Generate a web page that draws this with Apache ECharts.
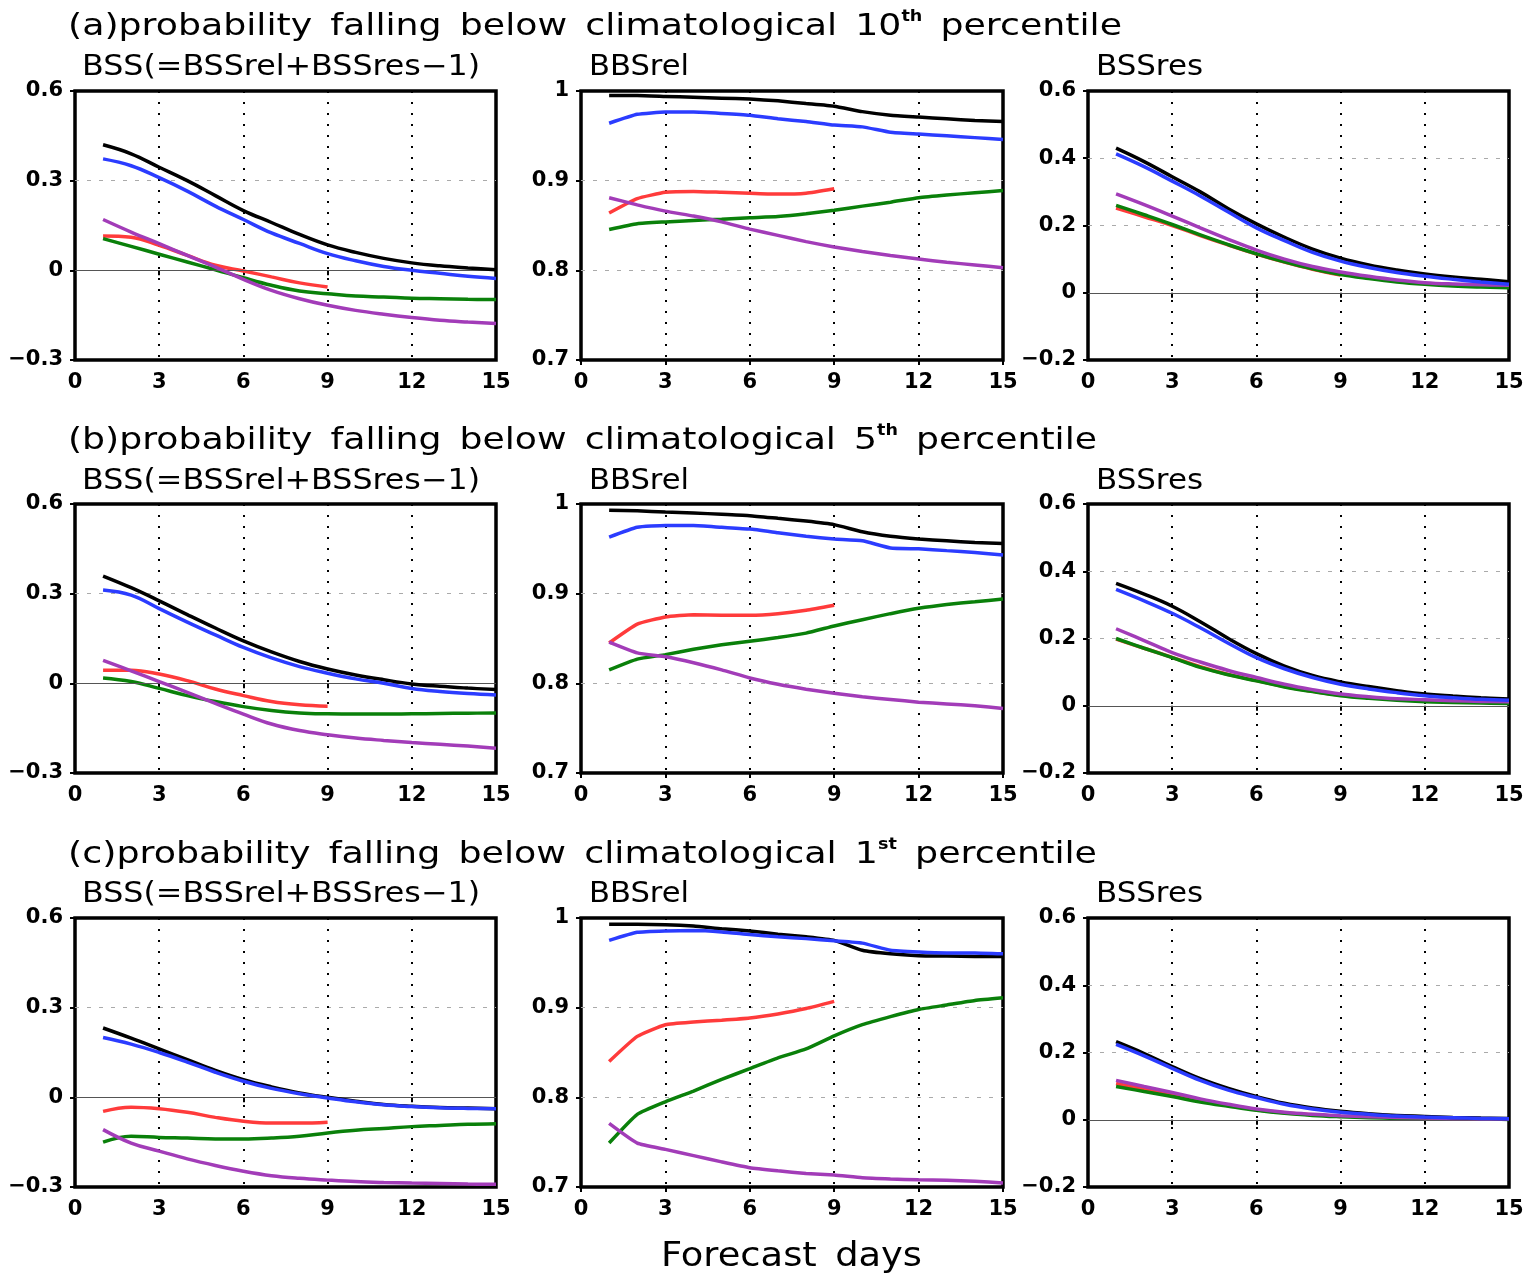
<!DOCTYPE html>
<html><head><meta charset="utf-8">
<script src="https://cdn.jsdelivr.net/npm/echarts@6/dist/echarts.min.js"></script>
<style>html,body{margin:0;padding:0;background:#fff}#c{width:1528px;height:1274px}</style>
</head><body><div id="c"></div>
<script>
// ---------------- DATA ----------------
const days = [1,2,3,4,5,6,7,8,9,10,11,12,13,14,15];
const dayTicks = [0,3,6,9,12,15];
const bssTicks = [-0.3,0,0.3,0.6];
const relTicks = [0.7,0.8,0.9,1];
const resTicks = [-0.2,0,0.2,0.4,0.6];

// (a) 10th percentile
const a_bss_black  = [0.42,0.39,0.345,0.30,0.25,0.20,0.16,0.12,0.085,0.06,0.04,0.025,0.015,0.008,0.002];
const a_bss_blue   = [0.373,0.35,0.31,0.265,0.215,0.17,0.125,0.09,0.056,0.032,0.013,0.0,-0.01,-0.02,-0.027];
const a_bss_red    = [0.115,0.111,0.084,0.05,0.017,-0.002,-0.022,-0.042,-0.056];
const a_bss_green  = [0.106,0.08,0.054,0.028,0.002,-0.025,-0.05,-0.069,-0.078,-0.086,-0.089,-0.093,-0.095,-0.097,-0.098];
const a_bss_purple = [0.17,0.128,0.089,0.05,0.011,-0.03,-0.067,-0.095,-0.117,-0.134,-0.147,-0.158,-0.167,-0.173,-0.178];

const a_rel_black  = [0.995,0.995,0.994,0.993,0.992,0.991,0.989,0.986,0.983,0.977,0.973,0.971,0.969,0.967,0.966];
const a_rel_blue   = [0.964,0.974,0.9765,0.9765,0.975,0.973,0.969,0.966,0.962,0.960,0.954,0.952,0.950,0.948,0.946];
const a_rel_red    = [0.864,0.880,0.887,0.888,0.887,0.886,0.885,0.886,0.891];
const a_rel_green  = [0.8455,0.852,0.854,0.8556,0.857,0.8586,0.860,0.863,0.867,0.8716,0.876,0.881,0.884,0.8865,0.889];
const a_rel_purple = [0.881,0.873,0.866,0.8605,0.854,0.846,0.839,0.832,0.826,0.821,0.8165,0.8126,0.809,0.806,0.803];

const a_res_black  = [0.43,0.39,0.345,0.30,0.25,0.205,0.165,0.13,0.103,0.083,0.068,0.056,0.047,0.04,0.033];
const a_res_blue   = [0.413,0.375,0.332,0.288,0.24,0.193,0.155,0.12,0.094,0.075,0.06,0.049,0.04,0.032,0.025];
const a_res_red    = [0.252,0.226,0.2,0.17,0.142,0.115,0.091,0.07,0.053];
const a_res_green  = [0.26,0.232,0.203,0.172,0.143,0.116,0.092,0.071,0.054,0.042,0.032,0.025,0.02,0.017,0.015];
const a_res_purple = [0.294,0.262,0.228,0.193,0.159,0.127,0.1,0.078,0.062,0.049,0.038,0.03,0.026,0.024,0.022];

// (b) 5th percentile
const b_bss_black  = [0.359,0.32,0.276,0.23,0.185,0.142,0.105,0.073,0.048,0.028,0.012,-0.002,-0.01,-0.016,-0.021];
const b_bss_blue   = [0.312,0.295,0.25,0.205,0.162,0.12,0.085,0.056,0.034,0.015,0.0,-0.017,-0.027,-0.034,-0.039];
const b_bss_red    = [0.044,0.044,0.031,0.009,-0.019,-0.041,-0.061,-0.072,-0.077];
const b_bss_green  = [0.018,0.006,-0.017,-0.041,-0.061,-0.078,-0.091,-0.099,-0.102,-0.103,-0.103,-0.102,-0.101,-0.1,-0.099];
const b_bss_purple = [0.077,0.042,0.006,-0.03,-0.067,-0.103,-0.136,-0.158,-0.172,-0.183,-0.191,-0.198,-0.204,-0.21,-0.217];

const b_rel_black  = [0.993,0.9925,0.991,0.990,0.9885,0.987,0.984,0.981,0.977,0.969,0.964,0.961,0.959,0.957,0.956];
const b_rel_blue   = [0.963,0.974,0.976,0.976,0.974,0.972,0.968,0.964,0.961,0.959,0.951,0.950,0.948,0.946,0.943];
const b_rel_red    = [0.845,0.866,0.874,0.8766,0.876,0.876,0.8777,0.8815,0.887];
const b_rel_green  = [0.815,0.827,0.832,0.838,0.843,0.847,0.851,0.856,0.864,0.871,0.8777,0.8837,0.888,0.891,0.894];
const b_rel_purple = [0.846,0.834,0.8296,0.823,0.815,0.806,0.799,0.7935,0.789,0.785,0.782,0.779,0.777,0.775,0.772];

const b_res_black  = [0.364,0.332,0.296,0.25,0.2,0.155,0.118,0.09,0.071,0.057,0.045,0.035,0.029,0.024,0.02];
const b_res_blue   = [0.346,0.312,0.275,0.232,0.186,0.143,0.11,0.084,0.064,0.05,0.039,0.03,0.024,0.019,0.016];
const b_res_red    = [0.198,0.171,0.144,0.116,0.093,0.075,0.057,0.043,0.031];
const b_res_green  = [0.2,0.171,0.143,0.114,0.092,0.074,0.056,0.042,0.03,0.022,0.016,0.012,0.01,0.008,0.007];
const b_res_purple = [0.229,0.194,0.158,0.13,0.105,0.084,0.064,0.048,0.035,0.027,0.021,0.018,0.015,0.013,0.012];

// (c) 1st percentile
const c_bss_black  = [0.232,0.198,0.162,0.126,0.09,0.059,0.035,0.015,0.0,-0.013,-0.024,-0.03,-0.034,-0.036,-0.038];
const c_bss_blue   = [0.2,0.178,0.15,0.118,0.084,0.054,0.03,0.012,-0.002,-0.015,-0.025,-0.031,-0.035,-0.037,-0.038];
const c_bss_red    = [-0.047,-0.033,-0.038,-0.05,-0.067,-0.08,-0.086,-0.086,-0.083];
const c_bss_green  = [-0.15,-0.13,-0.134,-0.136,-0.139,-0.139,-0.136,-0.13,-0.119,-0.11,-0.104,-0.098,-0.094,-0.09,-0.088];
const c_bss_purple = [-0.108,-0.153,-0.18,-0.206,-0.228,-0.247,-0.262,-0.271,-0.277,-0.282,-0.285,-0.287,-0.288,-0.29,-0.291];

const c_rel_black  = [0.993,0.993,0.9926,0.991,0.988,0.9856,0.982,0.979,0.975,0.964,0.96,0.958,0.9575,0.957,0.957];
const c_rel_blue   = [0.975,0.984,0.9856,0.986,0.9845,0.9815,0.979,0.977,0.9745,0.972,0.964,0.962,0.961,0.961,0.96];
const c_rel_red    = [0.84,0.868,0.881,0.884,0.886,0.8885,0.893,0.899,0.907];
const c_rel_green  = [0.749,0.781,0.795,0.807,0.82,0.832,0.844,0.854,0.8685,0.881,0.89,0.898,0.903,0.908,0.911];
const c_rel_purple = [0.771,0.749,0.742,0.735,0.728,0.7215,0.718,0.715,0.7133,0.7104,0.709,0.708,0.7075,0.7065,0.7045];

const c_res_black  = [0.232,0.197,0.158,0.122,0.093,0.069,0.049,0.035,0.025,0.018,0.013,0.01,0.007,0.005,0.004];
const c_res_blue   = [0.224,0.19,0.153,0.117,0.088,0.066,0.046,0.032,0.022,0.016,0.011,0.008,0.006,0.004,0.003];
const c_res_red    = [0.108,0.091,0.075,0.058,0.043,0.03,0.021,0.015,0.01];
const c_res_green  = [0.099,0.084,0.069,0.053,0.04,0.028,0.019,0.013,0.009,0.006,0.004,0.003,0.002,0.002,0.001];
const c_res_purple = [0.117,0.099,0.081,0.062,0.046,0.032,0.022,0.016,0.012,0.009,0.007,0.005,0.004,0.003,0.002];

// ---------------- LAYOUT ----------------
const COLORS = {red:'#ff3b3b', green:'#0a800a', purple:'#a23cb8', black:'#000000', blue:'#2b3cff'};
const colLeft = [75, 581, 1088];
const colWidth = [421, 422, 421];
const rowTop = [91, 504, 918];
const PH = 269;

const panels = [
  {r:0,c:0,k:'bss',t:bssTicks,s:{red:a_bss_red,green:a_bss_green,purple:a_bss_purple,black:a_bss_black,blue:a_bss_blue}},
  {r:0,c:1,k:'rel',t:relTicks,s:{red:a_rel_red,green:a_rel_green,purple:a_rel_purple,black:a_rel_black,blue:a_rel_blue}},
  {r:0,c:2,k:'res',t:resTicks,s:{red:a_res_red,green:a_res_green,purple:a_res_purple,black:a_res_black,blue:a_res_blue}},
  {r:1,c:0,k:'bss',t:bssTicks,s:{red:b_bss_red,green:b_bss_green,purple:b_bss_purple,black:b_bss_black,blue:b_bss_blue}},
  {r:1,c:1,k:'rel',t:relTicks,s:{red:b_rel_red,green:b_rel_green,purple:b_rel_purple,black:b_rel_black,blue:b_rel_blue}},
  {r:1,c:2,k:'res',t:resTicks,s:{red:b_res_red,green:b_res_green,purple:b_res_purple,black:b_res_black,blue:b_res_blue}},
  {r:2,c:0,k:'bss',t:bssTicks,s:{red:c_bss_red,green:c_bss_green,purple:c_bss_purple,black:c_bss_black,blue:c_bss_blue}},
  {r:2,c:1,k:'rel',t:relTicks,s:{red:c_rel_red,green:c_rel_green,purple:c_rel_purple,black:c_rel_black,blue:c_rel_blue}},
  {r:2,c:2,k:'res',t:resTicks,s:{red:c_res_red,green:c_res_green,purple:c_res_purple,black:c_res_black,blue:c_res_blue}}
];

const tickFont = {fontFamily:'DejaVu Sans', fontWeight:'bold', fontSize:21, color:'#000'};
function fmtY(v){ const r = Math.round(v*10)/10; return r < 0 ? '\u2212' + Math.abs(r) : String(r); }

const grids = [], xAxes = [], yAxes = [], series = [];
panels.forEach((p, i) => {
  grids.push({left: colLeft[p.c], top: rowTop[p.r], width: colWidth[p.c], height: PH,
    show: true, borderColor: '#000', borderWidth: 3.5, backgroundColor: 'transparent', containLabel: false});
  xAxes.push({gridIndex: i, type: 'value', min: dayTicks[0], max: dayTicks[dayTicks.length-1],
    interval: dayTicks[1]-dayTicks[0],
    axisLine: {show: false},
    axisTick: {show: true, length: 5, lineStyle: {color: '#000', width: 2}},
    axisLabel: Object.assign({margin: 12}, tickFont),
    splitLine: {show: true, showMinLine: false, showMaxLine: false, lineStyle: {color: '#000', width: 2, type: [2, 9]}}});
  const t = p.t;
  yAxes.push({gridIndex: i, type: 'value', min: t[0], max: t[t.length-1], interval: Math.round((t[1]-t[0])*10)/10,
    axisLine: {show: false},
    axisTick: {show: true, length: 5, lineStyle: {color: '#000', width: 2}},
    axisLabel: Object.assign({margin: 12, formatter: fmtY}, tickFont),
    splitLine: {show: true, showMinLine: false, showMaxLine: false, lineStyle: {color: '#aaa', width: 1, type: [4, 8]}}});
  const hasZero = t[0] < 0;
  const sm = p.k === 'rel' ? 0.15 : 0.4;
  ['red','green','purple','black','blue'].forEach((k, j) => {
    const vals = p.s[k];
    const s = {type: 'line', xAxisIndex: i, yAxisIndex: i, silent: true, animation: false, smooth: sm,
      data: vals.map((v, n) => [days[n], v]), symbol: 'none', showSymbol: false,
      lineStyle: {color: COLORS[k], width: 3.5}, itemStyle: {color: COLORS[k]}, z: 3 + j};
    if (j === 0 && hasZero) {
      s.markLine = {silent: true, symbol: 'none', animation: false, label: {show: false},
        lineStyle: {color: '#555', width: 1, type: 'solid'}, data: [{yAxis: 0}]};
    }
    series.push(s);
  });
});

// text fitting helper
const cv = document.createElement('canvas').getContext('2d');
function mw(font, txt){ cv.font = font; return cv.measureText(txt).width; }
const FAM = "'DejaVu Sans'";
const TSZ = 31, SUBSZ = 28, SUPSZ = 15;
const SP = '\u2002';
const mainTitles = [
  ['(a)probability'+SP+'falling'+SP+'below'+SP+'climatological'+SP+'10', 'th', SP+'percentile', 68, 27, 1054],
  ['(b)probability'+SP+'falling'+SP+'below'+SP+'climatological'+SP+'5', 'th', SP+'percentile', 68, 441, 1029],
  ['(c)probability'+SP+'falling'+SP+'below'+SP+'climatological'+SP+'1', 'st', SP+'percentile', 68, 855, 1029]
];
const graphics = [];
mainTitles.forEach(m => {
  const w = mw(TSZ+'px '+FAM, m[0]) + mw('bold '+SUPSZ+'px '+FAM, m[1]) + mw(TSZ+'px '+FAM, m[2]);
  graphics.push({type: 'text', x: m[3], y: m[4], scaleX: m[5]/w, silent: true,
    style: {text: m[0] + '{sup|' + m[1] + '}' + m[2], fontSize: TSZ, fontFamily: 'DejaVu Sans', fill: '#000',
      align: 'left', verticalAlign: 'middle', lineHeight: 34,
      rich: {sup: {fontSize: SUPSZ, fontWeight: 'bold', fontFamily: 'DejaVu Sans', fill: '#000', verticalAlign: 'top', lineHeight: 34, padding:[0,0,14,0]}}}});
});
const subTitles = [['BSS(=BSSrel+BSSres\u22121)', 0, 82, 398], ['BBSrel', 1, 589, 100], ['BSSres', 2, 1096, 107]];
const subY = [68, 482, 895];
subY.forEach(y => subTitles.forEach(s => {
  const w = mw(SUBSZ+'px '+FAM, s[0]);
  graphics.push({type: 'text', x: s[2], y: y, scaleX: s[3]/w, silent: true,
    style: {text: s[0], fontSize: SUBSZ, fontFamily: 'DejaVu Sans', fill: '#000', align: 'left', verticalAlign: 'middle'}});
}));
const xl = 'Forecast' + SP + 'days';
const xlw = mw('33px '+FAM, xl);
graphics.push({type: 'text', x: 661, y: 1257, scaleX: 261/xlw, silent: true,
  style: {text: xl, fontSize: 33, fontFamily: 'DejaVu Sans', fill: '#000', align: 'left', verticalAlign: 'middle'}});

const chart = echarts.init(document.getElementById('c'), null, {renderer: 'canvas'});
chart.setOption({
  animation: false,
  backgroundColor: '#fff',
  grid: grids, xAxis: xAxes, yAxis: yAxes, series: series,
  graphic: graphics
});
</script></body></html>
